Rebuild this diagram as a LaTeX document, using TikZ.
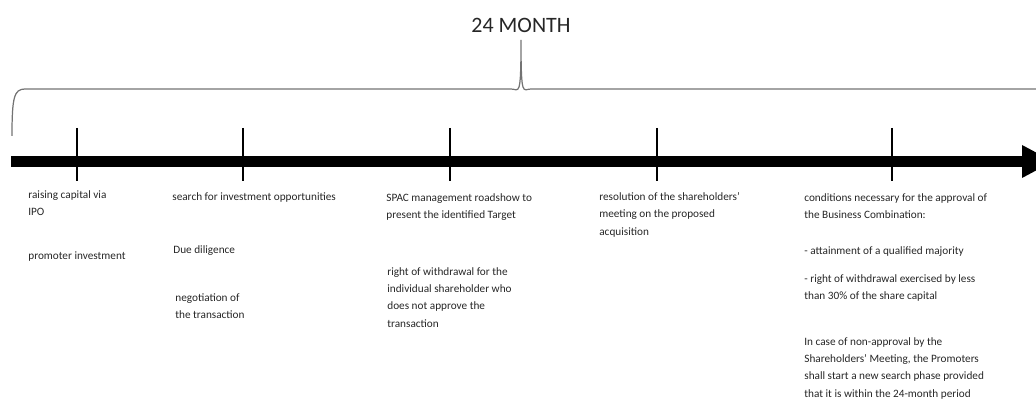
\documentclass[tikz,border=0pt]{standalone}
\usepackage{fontspec}
\setmainfont{Carlito}
\tikzset{
  note/.style={anchor=north west, inner sep=0pt, align=left, text=black!85,
    font=\fontsize{6.4}{9.9}\selectfont},
  mark line/.style={black, line width=0.85pt},
  brace line/.style={black!55, line width=0.7pt}
}
\begin{document}
\begin{tikzpicture}
  \useasboundingbox (0,0) rectangle (20.72,8);
  \clip (0,0) rectangle (20.72,8);
  % time axis
  \fill[black] (0.22,4.66) rectangle (20.44,4.88);
  \fill[black] (20.44,5.10) -- (21.06,4.77) -- (20.44,4.44) -- cycle;
  \foreach \x in {1.54,4.86,9.0,13.14,17.84}
    \draw[mark line] (\x,5.44) -- (\x,4.38);
  % brace over the whole period
  \draw[brace line] (0.24,5.28) .. controls (0.24,6.05) and (0.28,6.22) .. (0.5,6.22)
    -- (10.22,6.22) .. controls (10.38,6.22) and (10.42,6.0) .. (10.42,7.2)
    .. controls (10.42,6.0) and (10.46,6.22) .. (10.62,6.22) -- (20.8,6.22);
  \node[font=\fontsize{12.5}{14}\selectfont, text=black!85] (period) at (10.42,7.5) {24 MONTH};
  % phases
  \node[note] (ipo) at (0.56,4.20) {raising capital via\\IPO};
  \node[note] (promoter) at (0.56,2.98) {promoter investment};
  \node[note] (search) at (3.44,4.16) {search for investment opportunities};
  \node[note] (diligence) at (3.46,3.10) {Due diligence};
  \node[note] (negotiation) at (3.50,2.14) {negotiation of\\the transaction};
  \node[note] (roadshow) at (7.72,4.14) {SPAC management roadshow to\\present the identified Target};
  \node[note] (withdrawal) at (7.74,2.66) {right of withdrawal for the\\individual shareholder who\\does not approve the\\transaction};
  \node[note] (resolution) at (11.98,4.16) {resolution of the shareholders'\\meeting on the proposed\\acquisition};
  \node[note] (conditions) at (16.08,4.14) {conditions necessary for the approval of\\the Business Combination:};
  \node[note] (majority) at (16.08,3.08) {- attainment of a qualified majority};
  \node[note] (threshold) at (16.08,2.52) {- right of withdrawal exercised by less\\than 30\% of the share capital};
  \node[note] (nonapproval) at (16.08,1.26) {In case of non-approval by the\\Shareholders' Meeting, the Promoters\\shall start a new search phase provided\\that it is within the 24-month period};
\end{tikzpicture}
\end{document}
